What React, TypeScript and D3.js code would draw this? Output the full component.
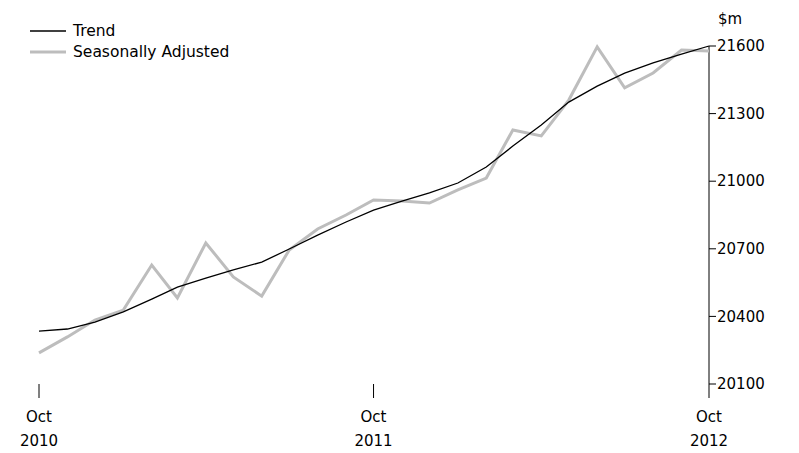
import React from "react";
import * as d3 from "d3";

const months = d3.range(25).map(i => new Date(2010, 9 + i, 1));
const trend = [20335,20344,20375,20420,20477,20530,20570,20606,20641,20699,20761,20819,20872,20912,20948,20992,21063,21156,21249,21351,21422,21480,21525,21564,21600];
const sa = [20238,20309,20384,20428,20628,20482,20726,20575,20490,20695,20788,20850,20917,20912,20903,20961,21014,21227,21201,21360,21596,21414,21480,21582,21578];
const yTicks = [20100,20400,20700,21000,21300,21600];
const xTicks = [new Date(2010,9,1), new Date(2011,9,1), new Date(2012,9,1)];

export default function App() {
  const x = d3.scaleTime().domain([months[0], months[24]]).range([39, 709]);
  const y = d3.scaleLinear().domain([20100, 21600]).range([384, 46]);
  const line = (v: number[]) => d3.line<number>().x((_, i) => x(months[i])).y(d => y(d))(v) || "";
  const font = "'DejaVu Sans', sans-serif";
  return (
    <svg width={799} height={453} style={{ position: "absolute", left: 0, top: 0 }} fontFamily={font} fontSize={15}>
      <line x1={709} x2={709} y1={46} y2={384} stroke="#000" />
      {yTicks.map(t => (
        <g key={t}>
          <line x1={709} x2={716} y1={y(t)} y2={y(t)} stroke="#000" />
          <text x={717} y={y(t)} dy="0.35em">{t}</text>
        </g>
      ))}
      <text x={718} y={24}>$m</text>
      {xTicks.map((t, i) => (
        <g key={i}>
          <line x1={x(t)} x2={x(t)} y1={384} y2={398} stroke="#000" />
          <text x={x(t)} y={422} textAnchor="middle">Oct</text>
          <text x={x(t)} y={446} textAnchor="middle">{t.getFullYear()}</text>
        </g>
      ))}
      <path d={line(sa)} fill="none" stroke="#bdbdbd" strokeWidth={3} />
      <path d={line(trend)} fill="none" stroke="#000" strokeWidth={1.3} />
      <line x1={30} x2={66} y1={31} y2={31} stroke="#000" strokeWidth={1.3} />
      <text x={73} y={31} dy="0.35em" fontSize={15.5}>Trend</text>
      <line x1={30} x2={66} y1={52} y2={52} stroke="#bdbdbd" strokeWidth={3} />
      <text x={73} y={52} dy="0.35em" fontSize={15.5}>Seasonally Adjusted</text>
    </svg>
  );
}
